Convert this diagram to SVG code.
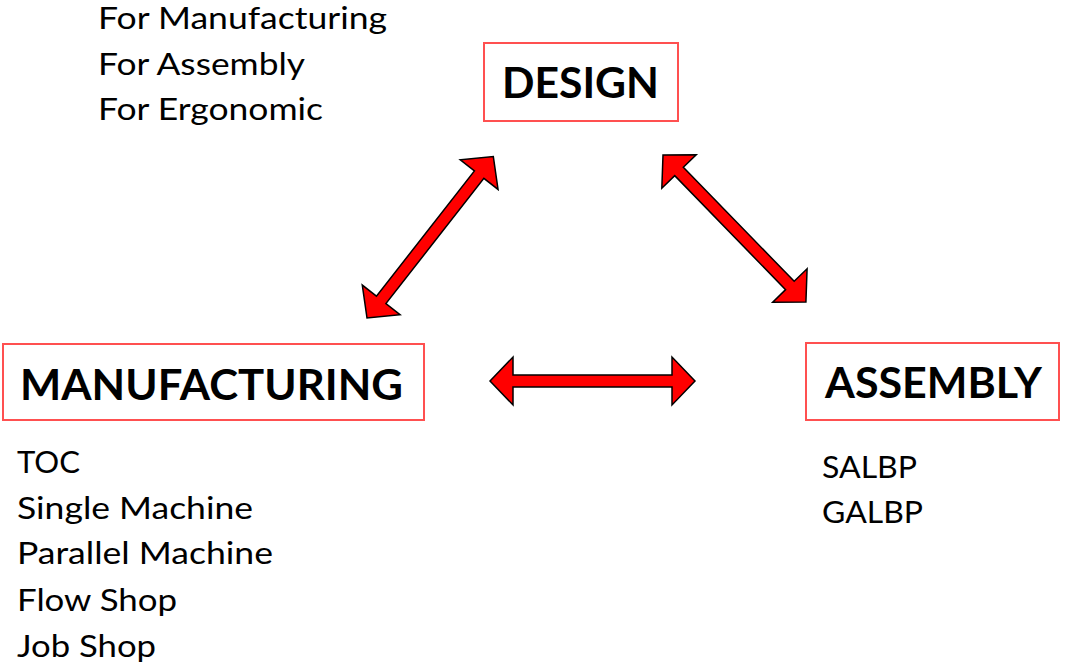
<svg xmlns="http://www.w3.org/2000/svg" width="1065" height="668" viewBox="0 0 1065 668">
<style>
.box{fill:#fff;stroke:#ff5050;stroke-width:2}
.title{font-family:Lato,"Open Sans",sans-serif;font-weight:bold;font-size:42px;fill:#000}
.lbl{font-family:Lato,"Open Sans",sans-serif;font-size:30px;fill:#000}
.arr{fill:#ff0000;stroke:#000;stroke-width:1.5;stroke-linejoin:miter}
</style>
<defs>
<path id="dbl" d="M0 0 L23 -24 L23 -6 L182 -6 L182 -24 L205 0 L182 24 L182 6 L23 6 L23 24 Z"/>
</defs>
<rect width="1065" height="668" fill="#fff"/>
<g id="notes-design">
<text class="lbl" x="98" y="29" textLength="289" lengthAdjust="spacingAndGlyphs">For Manufacturing</text>
<text class="lbl" x="98" y="75" textLength="207" lengthAdjust="spacingAndGlyphs">For Assembly</text>
<text class="lbl" x="98" y="120" textLength="225" lengthAdjust="spacingAndGlyphs">For Ergonomic</text>
</g>
<g id="node-design">
<rect class="box" x="484" y="43" width="194" height="78"/>
<text class="title" x="502" y="98" textLength="157" lengthAdjust="spacingAndGlyphs">DESIGN</text>
</g>
<g id="node-manufacturing">
<rect class="box" x="3" y="344" width="421" height="76"/>
<text class="title" x="20" y="400" textLength="383" lengthAdjust="spacingAndGlyphs">MANUFACTURING</text>
</g>
<g id="node-assembly">
<rect class="box" x="806" y="343" width="253" height="77"/>
<text class="title" x="825" y="398" textLength="217" lengthAdjust="spacingAndGlyphs">ASSEMBLY</text>
</g>
<g id="notes-manufacturing">
<text class="lbl" x="17" y="473" textLength="63" lengthAdjust="spacingAndGlyphs">TOC</text>
<text class="lbl" x="17" y="519" textLength="236" lengthAdjust="spacingAndGlyphs">Single Machine</text>
<text class="lbl" x="17" y="564" textLength="256" lengthAdjust="spacingAndGlyphs">Parallel Machine</text>
<text class="lbl" x="17" y="611" textLength="160" lengthAdjust="spacingAndGlyphs">Flow Shop</text>
<text class="lbl" x="17" y="657" textLength="139" lengthAdjust="spacingAndGlyphs">Job Shop</text>
</g>
<g id="notes-assembly">
<text class="lbl" x="822" y="478" textLength="95" lengthAdjust="spacingAndGlyphs">SALBP</text>
<text class="lbl" x="822" y="523" textLength="101" lengthAdjust="spacingAndGlyphs">GALBP</text>
</g>
<g id="connectors">
<use href="#dbl" class="arr" transform="translate(367 318) rotate(-51.96)"/>
<use href="#dbl" class="arr" transform="translate(663 155) rotate(45.8)"/>
<use href="#dbl" class="arr" transform="translate(490 381)"/>
</g>
</svg>
